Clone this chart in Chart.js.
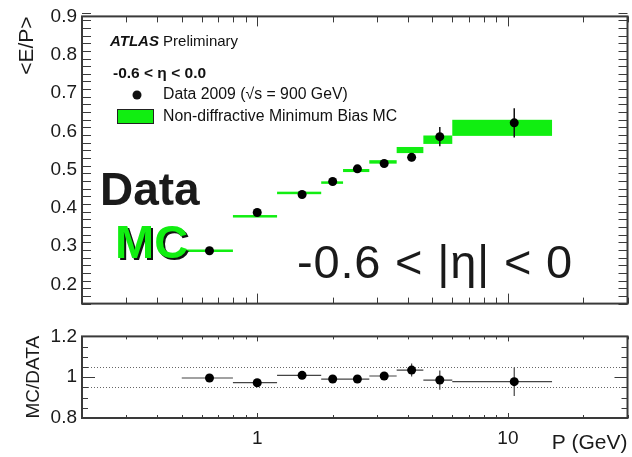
<!DOCTYPE html>
<html>
<head>
<meta charset="utf-8">
<script src="https://cdn.jsdelivr.net/npm/chart.js@4.4.1/dist/chart.umd.min.js"></script>
<style>
  html, body { margin: 0; padding: 0; background: #fff; width: 632px; height: 457px; overflow: hidden; }
  #top { position: absolute; left: 0; top: 0; }
  #bot { position: absolute; left: 0; top: 320px; }
</style>
</head>
<body>
<canvas id="top" width="632" height="320"></canvas>
<canvas id="bot" width="632" height="137"></canvas>
<script>
// momentum bins (GeV)
const binLo = [0.5, 0.8, 1.2, 1.8, 2.2, 2.8, 3.6, 4.6, 6];
const binHi = [0.8, 1.2, 1.8, 2.2, 2.8, 3.6, 4.6, 6, 15];

// data points
const dataP = [0.645, 1.0, 1.51, 2.0, 2.51, 3.21, 4.13, 5.35, 10.6];
const dataEP = [0.288, 0.388, 0.435, 0.469, 0.502, 0.516, 0.532, 0.586, 0.622];
const dataErr = [0.004, 0.004, 0.004, 0.004, 0.005, 0.006, 0.010, 0.025, 0.038];

// MC (green boxes)
const mcEP = [0.288, 0.378, 0.439, 0.466, 0.4975, 0.520, 0.551, 0.578, 0.609];
const mcErr = [0.003, 0.003, 0.003, 0.003, 0.004, 0.0045, 0.008, 0.011, 0.021];

// MC / DATA
const ratio = [0.996, 0.973, 1.009, 0.991, 0.991, 1.006, 1.035, 0.986, 0.978];
const ratioErr = [0.005, 0.005, 0.006, 0.006, 0.007, 0.008, 0.032, 0.047, 0.070];

// tick labels
const xTicks = [1, 10];
const xTickLabels = ['1', '10'];
const yTicks = [0.2, 0.3, 0.4, 0.5, 0.6, 0.7, 0.8, 0.9];
const yTickLabels = ['0.2', '0.3', '0.4', '0.5', '0.6', '0.7', '0.8', '0.9'];
const rTicks = [0.8, 1, 1.2];
const rTickLabels = ['0.8', '1', '1.2'];

const FONT = "'Liberation Sans', Arial, sans-serif";
const GREEN = '#11ee11';
const FRAME = '#3a3a3a';

Chart.defaults.font.family = FONT;
Chart.defaults.color = '#1a1a1a';

function fixTicks(values) {
  return function (scale) {
    scale.ticks = values.map(v => ({ value: v }));
  };
}
function labelFrom(values, labels) {
  return function (value) {
    const i = values.findIndex(v => Math.abs(v - value) < 1e-9);
    return i >= 0 ? labels[i] : '';
  };
}

// ROOT style frame with inward ticks on all four sides
function framePlugin(cfg) {
  return {
    id: 'frame',
    afterDraw(chart) {
      const { ctx, chartArea: a, scales: { x, y } } = chart;
      ctx.save();
      ctx.strokeStyle = FRAME;
      ctx.lineWidth = 1;
      ctx.beginPath();
      // x ticks (log decades)
      for (const d of [0.1, 1, 10]) {
        for (let k = 1; k <= 9; k++) {
          const v = k * d;
          if (v < x.min - 1e-9 || v > x.max + 1e-9) continue;
          const px = Math.round(x.getPixelForValue(v)) + 0.5;
          const len = k === 1 ? cfg.xMajor : cfg.xMinor;
          ctx.moveTo(px, a.bottom); ctx.lineTo(px, a.bottom - len);
          ctx.moveTo(px, a.top); ctx.lineTo(px, a.top + len);
        }
      }
      // y ticks
      const n = Math.round((y.max - y.min) / cfg.yStep);
      for (let i = 0; i <= n; i++) {
        const v = y.min + i * cfg.yStep;
        const major = Math.abs(v / cfg.yMajorStep - Math.round(v / cfg.yMajorStep)) < 1e-6;
        const len = major ? cfg.yMajor : cfg.yMinor;
        const py = Math.round(y.getPixelForValue(v)) + 0.5;
        ctx.moveTo(a.left, py); ctx.lineTo(a.left + len, py);
        ctx.moveTo(a.right, py); ctx.lineTo(a.right - len, py);
      }
      ctx.stroke();
      ctx.lineWidth = 2;
      ctx.strokeRect(a.left, a.top, a.right - a.left, a.bottom - a.top);
      ctx.restore();
    }
  };
}

const mcBoxes = {
  id: 'mcBoxes',
  beforeDatasetsDraw(chart) {
    const { ctx, scales: { x, y } } = chart;
    ctx.save();
    ctx.fillStyle = GREEN;
    for (let i = 0; i < binLo.length; i++) {
      const x0 = x.getPixelForValue(binLo[i]);
      const x1 = x.getPixelForValue(binHi[i]);
      const y0 = y.getPixelForValue(mcEP[i] + mcErr[i]);
      const y1 = y.getPixelForValue(mcEP[i] - mcErr[i]);
      const h = Math.max(y1 - y0, 2.5);
      const yc = (y0 + y1) / 2;
      ctx.fillRect(x0, yc - h / 2, x1 - x0, h);
    }
    ctx.strokeStyle = '#111';
    ctx.lineWidth = 1.5;
    ctx.beginPath();
    for (let i = 0; i < dataP.length; i++) {
      const px = x.getPixelForValue(dataP[i]);
      ctx.moveTo(px, y.getPixelForValue(dataEP[i] - dataErr[i]));
      ctx.lineTo(px, y.getPixelForValue(dataEP[i] + dataErr[i]));
    }
    ctx.stroke();
    ctx.restore();
  }
};

const topTexts = {
  id: 'topTexts',
  afterDatasetsDraw(chart) {
    const { ctx } = chart;
    ctx.save();
    ctx.textBaseline = 'middle';
    ctx.textAlign = 'left';
    ctx.fillStyle = '#111';
    // legend block
    ctx.font = 'italic bold 15px ' + FONT;
    ctx.fillText('ATLAS', 110, 42);
    const w = ctx.measureText('ATLAS ').width;
    ctx.font = '15px ' + FONT;
    ctx.fillText('Preliminary', 110 + w, 42);
    ctx.font = 'bold 15.5px ' + FONT;
    ctx.fillText('-0.6 < \u03b7 < 0.0', 113, 74);
    ctx.beginPath();
    ctx.arc(137, 95, 4.5, 0, Math.PI * 2);
    ctx.fill();
    ctx.font = '15.8px ' + FONT;
    ctx.fillText('Data 2009 (\u221as = 900 GeV)', 163, 95);
    ctx.fillStyle = GREEN;
    ctx.fillRect(117, 109, 37, 15);
    ctx.strokeStyle = '#222';
    ctx.lineWidth = 1;
    ctx.strokeRect(117.5, 109.5, 36, 14);
    ctx.fillStyle = '#111';
    ctx.fillText('Non-diffractive Minimum Bias MC', 163, 117);

    // big labels
    ctx.textBaseline = 'alphabetic';
    ctx.font = 'bold 46px ' + FONT;
    ctx.fillStyle = '#1a1a1a';
    ctx.fillText('Data', 100, 205);
    ctx.font = 'bold 47px ' + FONT;
    ctx.fillStyle = '#111';
    ctx.fillText('MC', 117, 260);
    ctx.fillStyle = GREEN;
    ctx.fillText('MC', 115, 258);
    ctx.fillStyle = '#1a1a1a';
    ctx.font = '47px ' + FONT;
    ctx.letterSpacing = '0.8px';
    ctx.fillText('-0.6 < |\u03b7| < 0', 297, 278);
    ctx.restore();
  }
};

const ratioMarks = {
  id: 'ratioMarks',
  beforeDatasetsDraw(chart) {
    const { ctx, chartArea: a, scales: { x, y } } = chart;
    ctx.save();
    ctx.strokeStyle = '#666';
    ctx.lineWidth = 1;
    ctx.setLineDash([1, 2]);
    ctx.beginPath();
    for (const v of [0.95, 1.05]) {
      const py = Math.round(y.getPixelForValue(v)) + 0.5;
      ctx.moveTo(a.left, py); ctx.lineTo(a.right, py);
    }
    ctx.stroke();
    ctx.setLineDash([]);
    ctx.strokeStyle = '#444';
    ctx.lineWidth = 1.2;
    ctx.beginPath();
    for (let i = 0; i < ratio.length; i++) {
      const py = y.getPixelForValue(ratio[i]);
      ctx.moveTo(x.getPixelForValue(binLo[i]), py);
      ctx.lineTo(x.getPixelForValue(binHi[i]), py);
      const px = x.getPixelForValue(dataP[i]);
      ctx.moveTo(px, y.getPixelForValue(ratio[i] - ratioErr[i]));
      ctx.lineTo(px, y.getPixelForValue(ratio[i] + ratioErr[i]));
    }
    ctx.stroke();
    ctx.restore();
  }
};

new Chart(document.getElementById('top'), {
  type: 'scatter',
  data: {
    datasets: [{
      data: dataP.map((p, i) => ({ x: p, y: dataEP[i] })),
      pointRadius: 4.5,
      pointBackgroundColor: '#000',
      pointBorderWidth: 0
    }]
  },
  options: {
    responsive: false,
    animation: false,
    devicePixelRatio: 1,
    layout: { padding: { top: 13, right: 2, bottom: 7, left: 0 } },
    plugins: { legend: { display: false }, tooltip: { enabled: false } },
    scales: {
      x: { type: 'logarithmic', min: 0.2, max: 30, display: false },
      y: {
        min: 0.15, max: 0.9,
        afterFit: s => { s.width = 82; },
        afterBuildTicks: fixTicks(yTicks),
        grid: { display: false, drawTicks: false },
        border: { display: false },
        ticks: { font: { size: 19 }, padding: 5, color: '#1a1a1a', callback: labelFrom(yTicks, yTickLabels) },
        title: { display: true, text: '<E/P>', align: 'end', font: { size: 21 }, color: '#1a1a1a', padding: { top: 15, bottom: 0 } }
      }
    }
  },
  plugins: [mcBoxes, topTexts, framePlugin({ xMajor: 10, xMinor: 6, yStep: 0.02, yMajorStep: 0.1, yMajor: 18, yMinor: 9 })]
});

new Chart(document.getElementById('bot'), {
  type: 'scatter',
  data: {
    datasets: [{
      data: dataP.map((p, i) => ({ x: p, y: ratio[i] })),
      pointRadius: 4.5,
      pointBackgroundColor: '#000',
      pointBorderWidth: 0
    }]
  },
  options: {
    responsive: false,
    animation: false,
    devicePixelRatio: 1,
    layout: { padding: { top: 15, right: 2, bottom: 0, left: 0 } },
    plugins: { legend: { display: false }, tooltip: { enabled: false } },
    scales: {
      x: {
        type: 'logarithmic', min: 0.2, max: 30,
        afterFit: s => { s.height = 39; },
        afterBuildTicks: fixTicks(xTicks),
        grid: { display: false, drawTicks: false },
        border: { display: false },
        ticks: { font: { size: 19 }, padding: 9, color: '#1a1a1a', autoSkip: false, maxRotation: 0, callback: labelFrom(xTicks, xTickLabels) },
        title: { display: true, text: 'P (GeV)', align: 'end', font: { size: 21 }, color: '#1a1a1a', padding: { top: 0, bottom: 1 } }
      },
      y: {
        min: 0.8, max: 1.2,
        afterFit: s => { s.width = 82; },
        afterBuildTicks: fixTicks(rTicks),
        grid: { display: false, drawTicks: false },
        border: { display: false },
        ticks: { font: { size: 19 }, padding: 5, color: '#1a1a1a', callback: labelFrom(rTicks, rTickLabels) },
        title: { display: true, text: 'MC/DATA', font: { size: 19 }, color: '#1a1a1a', padding: { top: 22, bottom: 0 } }
      }
    }
  },
  plugins: [ratioMarks, framePlugin({ xMajor: 5, xMinor: 3, yStep: 0.05, yMajorStep: 0.2, yMajor: 13, yMinor: 6 })]
});
</script>
</body>
</html>
